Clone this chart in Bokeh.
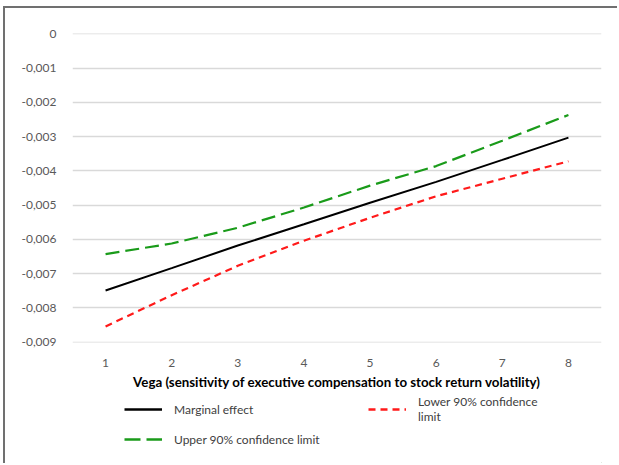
from bokeh.plotting import figure
from bokeh.layouts import column
from bokeh.models import Range1d, FixedTicker, CustomJSTickFormatter, Legend, LegendItem
from bokeh.embed import file_html
from bokeh.resources import INLINE

vega = [1, 2, 3, 4, 5, 6, 7, 8]
marginal_effect = [-0.00749, -0.00684, -0.00618, -0.00556, -0.00493, -0.00432, -0.00368, -0.00303]
upper_limit = [-0.00643, -0.00612, -0.00566, -0.00507, -0.00443, -0.00386, -0.00312, -0.00237]
lower_limit = [-0.00854, -0.00763, -0.00677, -0.00604, -0.00537, -0.00474, -0.00423, -0.00372]
y_ticks = [0, -0.001, -0.002, -0.003, -0.004, -0.005, -0.006, -0.007, -0.008, -0.009]
x_title = "Vega (sensitivity of executive compensation to stock return volatility)"
series_names = ["Marginal effect", "Upper 90% confidence limit", "Lower 90% confidence\nlimit"]

FONT = "Lato"
BLACK, GREEN, RED = "black", "#1a9b1a", "#ff1a1a"
GREEN_DASH, RED_DASH = "14 6", "7 5"

p = figure(width=612, height=384, output_backend="svg", toolbar_location=None,
           x_range=Range1d(0.5, 8.5), y_range=Range1d(-0.00901, 0.00001),
           min_border_left=67, min_border_right=16, min_border_top=25, min_border_bottom=50)
p.outline_line_color = None
p.background_fill_color = "white"
p.border_fill_color = "white"

p.xgrid.grid_line_color = None
p.ygrid.grid_line_color = "#d9d9d9"
p.ygrid.grid_line_width = 1.3

for ax in (p.xaxis[0], p.yaxis[0]):
    ax.axis_line_color = None
    ax.major_tick_line_color = None
    ax.minor_tick_line_color = None
    ax.major_label_text_font = FONT
    ax.major_label_text_font_size = "12px"
    ax.major_label_text_color = "#595959"

p.xaxis.ticker = FixedTicker(ticks=vega)
p.xaxis.major_label_standoff = 10
p.xaxis.axis_label = x_title
p.xaxis.axis_label_text_font = FONT
p.xaxis.axis_label_text_font_style = "bold"
p.xaxis.axis_label_text_font_size = "13.3px"
p.xaxis.axis_label_text_color = "#000000"
p.xaxis.axis_label_standoff = 4

p.yaxis.ticker = FixedTicker(ticks=y_ticks)
p.yaxis.major_label_standoff = 10
p.yaxis.formatter = CustomJSTickFormatter(code="""
    if (Math.abs(tick) < 1e-12) { return "0"; }
    return tick.toFixed(3).replace(".", ",");
""")

p.line(vega, marginal_effect, line_color=BLACK, line_width=2)
p.line(vega, upper_limit, line_color=GREEN, line_width=2.2, line_dash=GREEN_DASH)
p.line(vega, lower_limit, line_color=RED, line_width=2.2, line_dash=RED_DASH)

# legend panel below the chart (its series lie outside its ranges; only the legend shows)
q = figure(width=612, height=71, output_backend="svg", toolbar_location=None,
           x_range=Range1d(0, 1), y_range=Range1d(0, 1), min_border=0)
q.axis.visible = False
q.grid.grid_line_color = None
q.outline_line_color = None
q.border_fill_color = "white"
l1 = q.line(vega, marginal_effect, line_color=BLACK, line_width=2.4)
l2 = q.line(vega, upper_limit, line_color=GREEN, line_width=2.4, line_dash="16 6")
l3 = q.line(vega, lower_limit, line_color=RED, line_width=2.4, line_dash=RED_DASH)

legend = Legend(items=[LegendItem(label=series_names[0], renderers=[l1]),
                       LegendItem(label=series_names[2], renderers=[l3]),
                       LegendItem(label=series_names[1], renderers=[l2])],
                orientation="horizontal", ncols=2, location=(52, 16),
                border_line_color=None, background_fill_alpha=0,
                padding=0, margin=0, spacing=7,
                glyph_width=38, glyph_height=16, label_standoff=12,
                label_width=187, label_height=16,
                label_text_font=FONT, label_text_font_size="12px",
                label_text_color="#404040")
q.add_layout(legend, "center")

layout = column(p, q, spacing=0,
                styles={"border-left": "2px solid #707070", "border-top": "2px solid #707070",
                        "margin-left": "3px", "margin-top": "6px"})

open("out.html", "w").write(file_html(layout, INLINE))
